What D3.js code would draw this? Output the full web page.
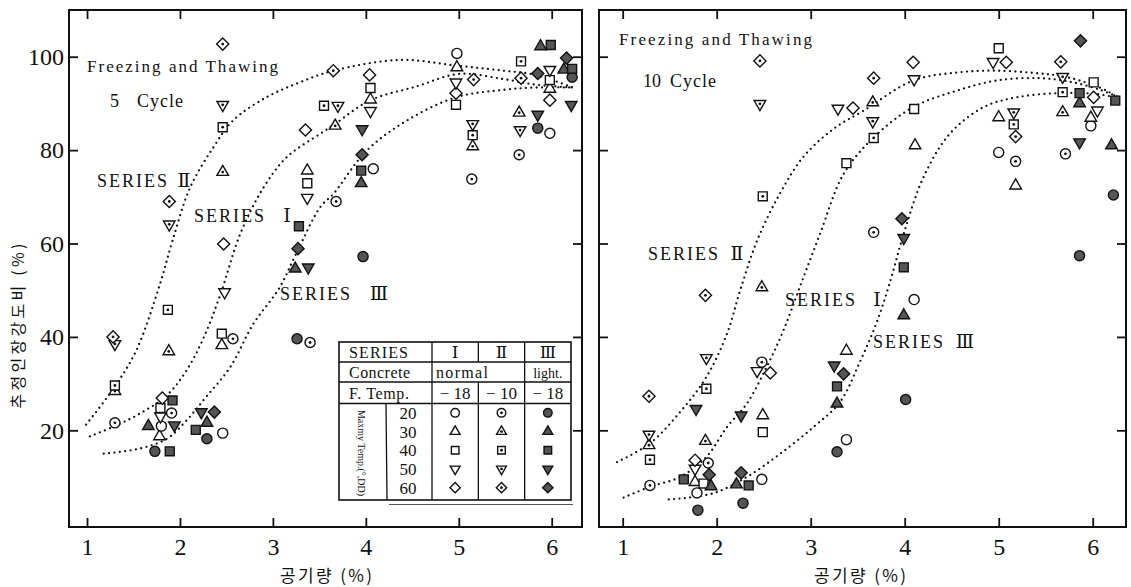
<!DOCTYPE html>
<html>
<head>
<meta charset="utf-8">
<script src="https://cdn.jsdelivr.net/npm/d3@7"></script>
<style>
  body { margin: 0; background: #fff; }
  svg text { font-family: "Liberation Serif", "DejaVu Serif", serif; fill: #111; }
  svg text.kr { font-family: "Noto Sans CJK KR", sans-serif; }
</style>
</head>
<body>
<svg id="chart" width="1131" height="587"></svg>
<script>
// ---- data ----
const xTicks = [1, 2, 3, 4, 5, 6];
const yTicks = [20, 40, 60, 80, 100];
const maturityTemps = [20, 30, 40, 50, 60];
const seriesNames = ["Ⅰ", "Ⅱ", "Ⅲ"];
const concreteTypes = ["normal", "normal", "light."];
const freezeTemps = ["− 18", "− 10", "− 18"];

// [air content %, strength ratio %, maturity temp]
const cycle5Series1 = [
  [1.78, 18.7, 30], [1.80, 20.9, 20], [1.79, 23.0, 50], [1.79, 24.8, 40], [1.81, 26.9, 60],
  [2.45, 38.2, 30], [2.45, 40.7, 40], [2.46, 19.4, 20], [2.48, 49.6, 50], [2.47, 59.9, 60],
  [3.37, 69.8, 50], [3.37, 72.9, 40], [3.37, 75.6, 30], [3.35, 84.3, 60],
  [4.05, 88.4, 50], [4.05, 90.8, 30], [4.05, 93.3, 40], [4.04, 96.1, 60], [4.08, 76.0, 20],
  [4.97, 89.7, 40], [4.97, 92.2, 60], [4.97, 94.5, 50], [4.98, 97.7, 30], [4.98, 100.7, 20],
  [5.98, 83.6, 20], [5.98, 90.7, 60], [5.98, 93.1, 30], [5.98, 95.0, 40], [5.98, 97.2, 50]
];
const cycle5Series2 = [
  [1.30, 21.6, 20], [1.30, 28.4, 30], [1.30, 29.6, 40], [1.30, 38.5, 50], [1.28, 40.0, 60],
  [1.91, 23.7, 20], [1.88, 36.9, 30], [1.87, 45.8, 40], [1.885, 64.1, 50], [1.885, 69.0, 60],
  [2.57, 39.6, 20], [2.46, 75.3, 30], [2.46, 84.9, 40], [2.46, 89.7, 50], [2.46, 102.7, 60],
  [3.40, 38.8, 20], [3.68, 69.0, 20], [3.67, 85.2, 30], [3.55, 89.5, 40], [3.70, 89.5, 50], [3.65, 97.0, 60],
  [5.14, 73.8, 20], [5.15, 80.8, 30], [5.15, 83.2, 40], [5.15, 85.6, 50], [5.16, 95.1, 60],
  [5.65, 79.0, 20], [5.65, 88.0, 30], [5.67, 99.0, 40], [5.66, 84.3, 50], [5.67, 95.4, 60]
];
const cycle5Series3 = [
  [1.73, 15.5, 20], [1.66, 20.9, 30], [1.89, 15.5, 40], [1.92, 26.4, 40], [1.94, 21.1, 50],
  [2.29, 18.2, 20], [2.29, 21.6, 30], [2.17, 20.1, 40], [2.23, 23.9, 50], [2.37, 23.9, 60],
  [3.26, 39.6, 20], [3.24, 54.6, 30], [3.28, 63.7, 40], [3.38, 54.9, 50], [3.27, 58.9, 60],
  [3.97, 57.2, 20], [3.95, 72.9, 30], [3.95, 75.6, 40], [3.96, 84.5, 50], [3.96, 79.0, 60],
  [5.85, 84.7, 20], [5.88, 102.2, 30], [5.99, 102.5, 40], [5.85, 87.6, 50], [5.85, 96.4, 60],
  [6.22, 95.6, 20], [6.13, 97.2, 30], [6.22, 97.4, 40], [6.21, 89.7, 50], [6.16, 99.7, 60]
];

const cycle10Series1 = [
  [1.79, 6.6, 20], [1.77, 8.9, 30], [1.86, 8.6, 40], [1.77, 11.8, 50], [1.77, 13.6, 60],
  [2.48, 9.5, 20], [2.49, 23.2, 30], [2.49, 19.6, 40], [2.43, 32.7, 50], [2.57, 32.3, 60],
  [3.38, 18.0, 20], [3.38, 37.0, 30], [3.38, 77.2, 40], [3.29, 88.9, 50], [3.45, 89.0, 60],
  [4.10, 48.0, 20], [4.11, 81.0, 30], [4.10, 88.8, 40], [4.10, 95.2, 50], [4.09, 98.8, 60],
  [5.00, 79.5, 20], [5.00, 87.0, 30], [5.18, 72.4, 30], [5.00, 101.8, 40], [4.94, 98.9, 50], [5.08, 98.8, 60],
  [5.98, 85.2, 20], [5.98, 86.9, 30], [6.01, 94.5, 40], [6.05, 88.5, 50], [6.01, 91.3, 60]
];
const cycle10Series2 = [
  [1.29, 8.2, 20], [1.28, 16.8, 30], [1.29, 13.7, 40], [1.28, 19.1, 50], [1.28, 27.3, 60],
  [1.91, 13.0, 20], [1.88, 17.7, 30], [1.89, 28.9, 40], [1.89, 35.5, 50], [1.88, 48.9, 60],
  [2.48, 34.6, 20], [2.48, 50.6, 30], [2.49, 70.1, 40], [2.46, 89.9, 50], [2.46, 99.1, 60],
  [3.67, 62.4, 20], [3.66, 90.2, 30], [3.67, 82.6, 40], [3.66, 86.2, 50], [3.67, 95.4, 60],
  [5.18, 77.6, 20], [5.16, 85.5, 40], [5.16, 88.1, 50], [5.18, 82.9, 60],
  [5.71, 79.2, 20], [5.68, 88.1, 30], [5.68, 92.4, 40], [5.68, 95.7, 50], [5.66, 98.9, 60]
];
const cycle10Series3 = [
  [1.80, 2.9, 20], [1.94, 8.0, 30], [1.65, 9.5, 40], [1.78, 24.6, 50], [1.92, 10.5, 60],
  [2.28, 4.4, 20], [2.21, 8.4, 30], [2.34, 8.2, 40], [2.26, 23.2, 50], [2.26, 10.9, 60],
  [3.28, 15.4, 20], [3.28, 25.7, 30], [3.28, 29.4, 40], [3.25, 33.9, 50], [3.35, 32.1, 60],
  [4.01, 26.6, 20], [3.99, 44.6, 30], [3.99, 54.9, 40], [3.99, 61.2, 50], [3.97, 65.3, 60],
  [5.86, 57.4, 20], [5.86, 90.0, 30], [5.86, 92.2, 40], [5.86, 81.7, 50], [5.87, 103.4, 60],
  [6.22, 70.4, 20], [6.20, 81.0, 30], [6.24, 90.6, 40]
];

// fitted curves [air, ratio]
const cycle5Curve1 = [[1.03, 18.7], [1.30, 20.9], [1.57, 23.6], [1.86, 27.5], [2.07, 32.8], [2.25, 39.6], [2.43, 48.8], [2.65, 62.1], [2.90, 72.0], [3.15, 78.5], [3.51, 83.5], [3.67, 85.6], [4.04, 90.6], [4.54, 93.6], [5.00, 96.3], [5.48, 95.2], [5.83, 94.0], [6.23, 93.4]];
const cycle5Curve2 = [[0.99, 21.2], [1.30, 29.4], [1.53, 37.1], [1.78, 51.0], [1.92, 60.6], [2.11, 72.0], [2.36, 80.6], [2.57, 86.3], [2.93, 91.3], [3.29, 94.5], [3.65, 97.0], [4.37, 99.3], [4.97, 98.1], [5.48, 97.0], [5.80, 96.2], [6.23, 93.4]];
const cycle5Curve3 = [[1.18, 15.0], [1.57, 16.1], [1.86, 18.2], [2.07, 22.1], [2.28, 27.1], [2.54, 33.5], [2.79, 42.8], [3.07, 50.5], [3.25, 57.8], [3.51, 67.8], [3.65, 70.6], [4.01, 79.9], [4.44, 86.3], [4.97, 91.3], [5.48, 92.9], [5.83, 93.4], [6.23, 93.4]];

const cycle10Curve1 = [[1.01, 5.6], [1.29, 7.9], [1.61, 10.0], [1.89, 14.3], [2.11, 20.7], [2.32, 25.7], [2.53, 33.5], [2.71, 41.4], [2.89, 51.0], [3.10, 62.1], [3.35, 74.9], [3.67, 82.7], [4.09, 89.2], [4.55, 92.7], [4.98, 94.9], [5.44, 95.4], [5.79, 94.5], [6.08, 92.9], [6.26, 91.5]];
const cycle10Curve2 = [[0.94, 13.2], [1.29, 17.2], [1.61, 23.9], [1.89, 31.4], [2.11, 40.7], [2.25, 50.0], [2.43, 60.6], [2.67, 70.6], [2.92, 78.5], [3.24, 84.5], [3.56, 88.4], [4.09, 94.9], [4.55, 96.6], [4.98, 97.0], [5.44, 96.4], [5.65, 95.9], [5.86, 94.9], [6.15, 92.7], [6.26, 91.3]];
const cycle10Curve3 = [[1.49, 5.2], [1.96, 6.5], [2.32, 10.0], [2.67, 14.9], [3.03, 20.7], [3.31, 26.0], [3.52, 34.5], [3.70, 43.0], [3.84, 51.5], [3.99, 62.1], [4.20, 74.2], [4.48, 83.5], [4.84, 89.2], [5.19, 91.3], [5.65, 92.2], [6.04, 92.0], [6.26, 91.2]];

// ---- drawing ----
const svg = d3.select("#chart");
const fillDark = "#555";

const shapeOf = {
  20: { type: d3.symbolCircle, size: 80, rot: 0 },
  30: { type: d3.symbolTriangle, size: 58, rot: 0 },
  40: { type: d3.symbolSquare, size: 80, rot: 0 },
  50: { type: d3.symbolTriangle, size: 58, rot: 180 },
  60: { type: d3.symbolSquare, size: 74, rot: 45 }
};

function drawMark(g, cx, cy, temp, style, k) {
  const s = shapeOf[temp];
  const m = g.append("g").attr("transform", "translate(" + cx + "," + cy + ")");
  m.append("path")
    .attr("d", d3.symbol().type(s.type).size(s.size * k * k)())
    .attr("transform", "rotate(" + s.rot + ")")
    .attr("fill", style === 2 ? fillDark : "#fff")
    .attr("stroke", "#111")
    .attr("stroke-width", 1.4);
  if (style === 1) {
    m.append("circle").attr("r", 1.4).attr("fill", "#111");
  }
}

function drawPanel(cfg) {
  const x = d3.scaleLinear().domain(cfg.xDomain).range([cfg.left, cfg.right]);
  const y = d3.scaleLinear().domain([-0.7, 110]).range([527, 10]);
  const g = svg.append("g");

  // frame
  g.append("rect")
    .attr("x", cfg.left).attr("y", 10)
    .attr("width", cfg.right - cfg.left).attr("height", 517)
    .attr("fill", "none").attr("stroke", "#111").attr("stroke-width", 2);

  // axes, ticks pointing inward
  g.append("g").attr("transform", "translate(0,527)")
    .call(d3.axisBottom(x).tickValues(xTicks).tickSizeInner(-9).tickSizeOuter(0).tickPadding(11)
      .tickFormat(d3.format("d")));
  g.append("g").attr("transform", "translate(0,10)")
    .call(d3.axisTop(x).tickValues(xTicks).tickSizeInner(-9).tickSizeOuter(0).tickFormat(""));
  g.append("g").attr("transform", "translate(" + cfg.left + ",0)")
    .call(d3.axisLeft(y).tickValues(yTicks).tickSizeInner(-9).tickSizeOuter(0).tickPadding(5)
      .tickFormat(cfg.yLabels ? d3.format("d") : ""));
  g.append("g").attr("transform", "translate(" + cfg.right + ",0)")
    .call(d3.axisRight(y).tickValues(yTicks).tickSizeInner(-9).tickSizeOuter(0).tickFormat(""));

  g.selectAll(".domain").remove();
  g.selectAll(".tick line").attr("stroke", "#111").attr("stroke-width", 1.8);
  g.selectAll(".tick text")
    .attr("font-family", "Liberation Serif, DejaVu Serif, serif")
    .attr("font-size", 24).style("font-size", "24px").attr("fill", "#111");

  // dotted fitted curves
  const line = d3.line().x(d => x(d[0])).y(d => y(d[1])).curve(d3.curveCatmullRom.alpha(0.5));
  cfg.curves.forEach(c => {
    g.append("path").attr("d", line(c))
      .attr("fill", "none").attr("stroke", "#111").attr("stroke-width", 2.3)
      .attr("stroke-linecap", "round").attr("stroke-dasharray", "0 5.4");
  });

  // data points
  cfg.points.forEach((pts, si) => {
    pts.forEach(p => drawMark(g, x(p[0]), y(p[1]), p[2], si, 1));
  });

  // annotations
  g.append("text").attr("x", cfg.title[0]).attr("y", cfg.title[1])
    .attr("textLength", cfg.title[2]).attr("lengthAdjust", "spacing")
    .style("font-size", "17px").text("Freezing and Thawing");
  g.append("text").attr("x", cfg.cycle[0]).attr("y", cfg.cycle[1])
    .style("font-size", "18px").text(cfg.cycle[2]);
  g.append("text").attr("x", cfg.cycle[3]).attr("y", cfg.cycle[1])
    .attr("textLength", 46).attr("lengthAdjust", "spacing")
    .style("font-size", "18px").text("Cycle");

  cfg.seriesLabels.forEach((s, i) => {
    g.append("text").attr("x", s[0]).attr("y", s[1])
      .attr("textLength", 70).attr("lengthAdjust", "spacing")
      .style("font-size", "18px").text("SERIES");
    g.append("text").attr("x", s[2]).attr("y", s[1])
      .attr("text-anchor", "middle")
      .style("font-size", "19px").text(seriesNames[i]);
  });

  // x axis title
  g.append("text").attr("class", "kr")
    .attr("x", cfg.xTitle - 46).attr("y", 582)
    .attr("textLength", 92).attr("lengthAdjust", "spacing")
    .style("font-size", "17px").text("공기량 (%)");
  return { x, y, g };
}

drawPanel({
  left: 69, right: 582, xDomain: [0.806, 6.326], yLabels: true,
  curves: [cycle5Curve1, cycle5Curve2, cycle5Curve3],
  points: [cycle5Series1, cycle5Series2, cycle5Series3],
  title: [87, 72, 191], cycle: [110, 107, "5", 137],
  seriesLabels: [[194, 222, 287], [97, 187, 184], [280, 300, 379]],
  xTitle: 326
});

drawPanel({
  left: 599, right: 1126, xDomain: [0.748, 6.354], yLabels: false,
  curves: [cycle10Curve1, cycle10Curve2, cycle10Curve3],
  points: [cycle10Series1, cycle10Series2, cycle10Series3],
  title: [619, 45, 193], cycle: [643, 87, "10", 670],
  seriesLabels: [[785, 306, 877], [648, 260, 737], [873, 348, 965]],
  xTitle: 860
});

// y axis title
svg.append("text").attr("class", "kr")
  .attr("transform", "translate(24,326) rotate(-90)")
  .attr("text-anchor", "middle")
  .attr("textLength", 165).attr("lengthAdjust", "spacing")
  .style("font-size", "16px").text("추정인장강도비 (%)");

// ---- legend table ----
const lg = svg.append("g");
const tblL = 339, tblR = 571, tblT = 342, tblB = 500;
const rowLines = [362, 382, 403.5];
const colX = d3.scaleBand().domain(seriesNames).range([432, tblR]);
const rowY = d3.scaleBand().domain(maturityTemps).range([403.5, 497]);
const inkLine = (x1, y1, x2, y2, w) => lg.append("line")
  .attr("x1", x1).attr("y1", y1).attr("x2", x2).attr("y2", y2)
  .attr("stroke", "#111").attr("stroke-width", w || 1.3);

lg.append("rect").attr("x", tblL).attr("y", tblT).attr("width", tblR - tblL).attr("height", tblB - tblT)
  .attr("fill", "#fff").attr("stroke", "#111").attr("stroke-width", 1.6);
rowLines.forEach(ry => inkLine(tblL, ry, tblR, ry));
inkLine(colX("Ⅰ"), tblT, colX("Ⅰ"), tblB);
inkLine(colX("Ⅲ"), tblT, colX("Ⅲ"), tblB);
inkLine(colX("Ⅱ"), tblT, colX("Ⅱ"), rowLines[0]);
inkLine(colX("Ⅱ"), rowLines[1], colX("Ⅱ"), tblB);
inkLine(386, rowLines[2], 387, tblB);
// faint rule below the table
lg.append("line").attr("x1", 389).attr("x2", 573).attr("y1", 504.5).attr("y2", 504.5)
  .attr("stroke", "#555").attr("stroke-width", 1);

const cellText = (tx, ty, str, opts) => {
  const t = lg.append("text").attr("x", tx).attr("y", ty)
    .style("font-size", (opts && opts.size || 16) + "px").text(str);
  if (opts && opts.anchor) t.attr("text-anchor", opts.anchor);
  if (opts && opts.len) t.attr("textLength", opts.len).attr("lengthAdjust", "spacing");
  return t;
};
cellText(349, 358, "SERIES", { len: 59 });
cellText(349, 378, "Concrete", { len: 61 });
cellText(349, 398.5, "F. Temp.", { len: 60 });
seriesNames.forEach((s, i) => {
  const cx = colX(s) + colX.bandwidth() / 2;
  cellText(cx, 358, s, { anchor: "middle", size: 17 });
  cellText(cx, 398.5, freezeTemps[i], { anchor: "middle", size: 17 });
});
cellText(436, 378, concreteTypes[0], { len: 52 });
cellText(colX("Ⅲ") + colX.bandwidth() / 2, 378, concreteTypes[2], { anchor: "middle", size: 14 });

lg.append("text").attr("transform", "translate(358,453) rotate(90)")
  .attr("text-anchor", "middle").attr("textLength", 86).attr("lengthAdjust", "spacingAndGlyphs")
  .style("font-size", "11px").text("Maxmy Temp.(°,DD)");

maturityTemps.forEach(t => {
  const cy = rowY(t) + rowY.bandwidth() / 2;
  cellText(408, cy + 6, String(t), { anchor: "middle", size: 17 });
  seriesNames.forEach((s, si) => {
    drawMark(lg, colX(s) + colX.bandwidth() / 2, cy, t, si, 0.85);
  });
});
</script>
</body>
</html>
